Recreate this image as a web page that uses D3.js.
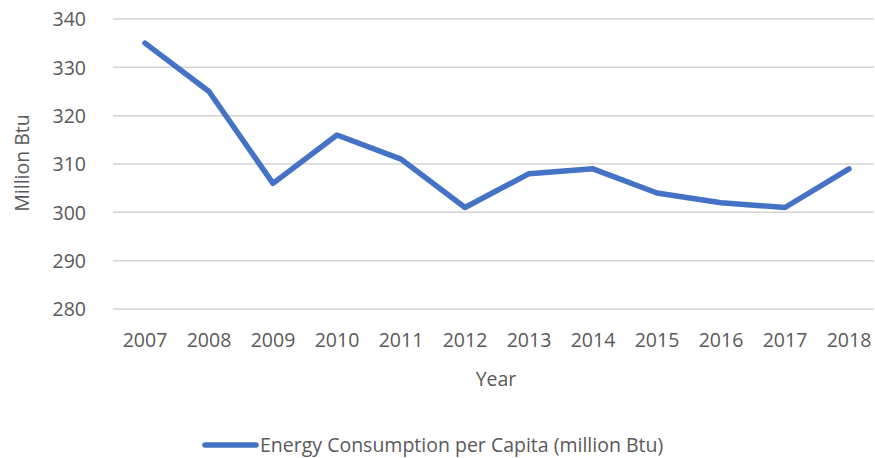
<!DOCTYPE html>
<html lang="en">
<head>
    <meta charset="UTF-8">
    <title>Energy Consumption per Capita</title>
    <script src="https://cdn.jsdelivr.net/npm/d3@7"></script>
    <style>
        body { margin: 0; background: #fff; }
        svg text { font-family: "Open Sans", "Noto Sans", sans-serif; fill: #595959; }
    </style>
</head>
<body>
<div class="chart"></div>
<script type="text/javascript">
    var years = ['2007', '2008', '2009', '2010', '2011', '2012', '2013', '2014', '2015', '2016', '2017', '2018'];
    var consumption = [335, 325, 306, 316, 311, 301, 308, 309, 304, 302, 301, 309];
    var yTicks = [280, 290, 300, 310, 320, 330, 340];
    var seriesName = 'Energy Consumption per Capita (million Btu)';

    var w = 875, h = 458;
    var plotLeft = 113, plotRight = 881, plotTop = 19, plotBottom = 309;
    var fs = '19.5px';

    var svg = d3.select('.chart').append('svg')
            .attr('width', w)
            .attr('height', h);

    var x = d3.scaleBand().domain(years).range([plotLeft, plotRight]);
    var y = d3.scaleLinear().domain([280, 340]).range([plotBottom, plotTop]);

    // gridlines
    svg.append('g').selectAll('line')
            .data(yTicks)
            .enter()
            .append('line')
            .attr('x1', plotLeft)
            .attr('x2', 874)
            .attr('y1', function(d) { return y(d); })
            .attr('y2', function(d) { return y(d); })
            .attr('stroke', '#d4d4d4')
            .attr('stroke-width', 1.5);

    // y axis labels
    var yAxis = svg.append('g')
            .attr('transform', 'translate(' + (plotLeft - 27) + ',0)')
            .call(d3.axisLeft(y).tickValues(yTicks).tickSize(0).tickPadding(0));
    yAxis.select('.domain').remove();
    yAxis.selectAll('text').style('font-size', fs).attr('dy', '0.35em');

    // x axis labels
    var xAxis = svg.append('g')
            .attr('transform', 'translate(0,' + (plotBottom + 22) + ')')
            .call(d3.axisBottom(x).tickSize(0).tickPadding(0));
    xAxis.select('.domain').remove();
    xAxis.selectAll('text').style('font-size', fs).attr('dy', '0.35em').attr('y', 9);

    // line
    var line = d3.line()
            .x(function(d, i) { return x(years[i]) + x.bandwidth() / 2; })
            .y(function(d) { return y(d); });

    svg.append('path')
            .datum(consumption)
            .attr('d', line)
            .attr('fill', 'none')
            .attr('stroke', '#4472c4')
            .attr('stroke-width', 5.5)
            .attr('stroke-linejoin', 'round')
            .attr('stroke-linecap', 'round');

    // axis titles
    svg.append('text')
            .attr('x', 496)
            .attr('y', 379)
            .attr('dy', '0.35em')
            .attr('text-anchor', 'middle')
            .style('font-size', fs)
            .text('Year');

    svg.append('text')
            .attr('transform', 'translate(22,' + 163 + ') rotate(-90)')
            .attr('dy', '0.35em')
            .attr('text-anchor', 'middle')
            .style('font-size', fs)
            .text('Million Btu');

    // legend
    svg.append('line')
            .attr('x1', 205)
            .attr('x2', 256)
            .attr('y1', 445)
            .attr('y2', 445)
            .attr('stroke', '#4472c4')
            .attr('stroke-width', 5.5)
            .attr('stroke-linecap', 'round');

    svg.append('text')
            .attr('x', 260)
            .attr('y', 445)
            .attr('dy', '0.35em')
            .style('font-size', fs)
            .text(seriesName);
</script>
</body>
</html>
